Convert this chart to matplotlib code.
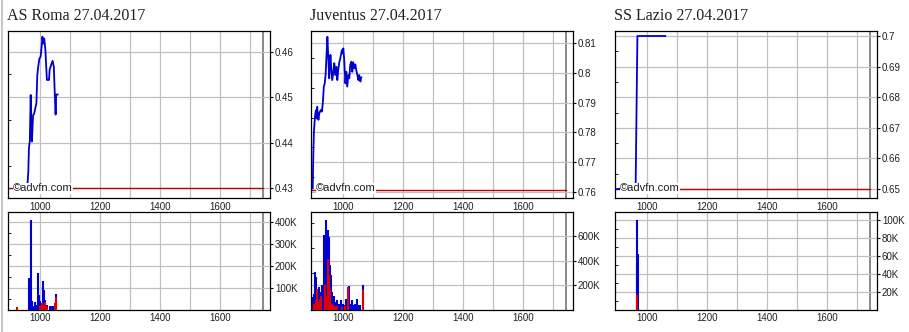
import numpy as np
import matplotlib.pyplot as plt
from matplotlib.lines import Line2D
from matplotlib.ticker import FixedLocator, FuncFormatter

# ---------------------------------------------------------------
# Chart data (time as HHMM, price in EUR, volume in shares)
# ---------------------------------------------------------------
titles = ['AS Roma 27.04.2017', 'Juventus 27.04.2017', 'SS Lazio 27.04.2017']
prev_close = [0.4300, 0.7607, 0.6500]

roma_t = [958, 961, 963, 966, 969, 971, 973, 977, 980, 983, 988, 991, 994, 998,
          1002, 1006, 1008, 1011, 1014, 1018, 1021, 1023, 1030, 1032, 1037,
          1042, 1046, 1049, 1052, 1054, 1059]
roma_p = [0.4307, 0.4336, 0.4388, 0.4403, 0.4505, 0.4417, 0.4403, 0.4461,
          0.4463, 0.4472, 0.4487, 0.4549, 0.4567, 0.4585, 0.4589, 0.4615,
          0.4633, 0.4618, 0.4629, 0.4604, 0.4563, 0.4538, 0.4538, 0.4560,
          0.4571, 0.4580, 0.4567, 0.4512, 0.4462, 0.4506, 0.4506]

juve_t = [899, 901, 903, 907, 910, 912, 914, 918, 921, 926, 930, 933, 936, 939,
          942, 945, 948, 952, 954, 958, 961, 964, 968, 971, 974, 978, 981, 984,
          988, 991, 996, 999, 1001, 1004, 1008, 1011, 1014, 1018, 1021, 1024,
          1028, 1031, 1034, 1038, 1041, 1044, 1048, 1051, 1054, 1058, 1061]
juve_p = [0.7611, 0.7724, 0.7802, 0.7858, 0.7875, 0.7847, 0.7886, 0.7842,
          0.7864, 0.7875, 0.7870, 0.7903, 0.7954, 0.7965, 0.7993, 0.8061,
          0.8122, 0.8027, 0.7982, 0.8061, 0.8016, 0.7976, 0.8004, 0.8033,
          0.7993, 0.8021, 0.7976, 0.8010, 0.8038, 0.8049, 0.8077, 0.8066,
          0.8083, 0.8044, 0.7965, 0.8004, 0.7954, 0.7993, 0.7982, 0.8027,
          0.8038, 0.8004, 0.8036, 0.8016, 0.8029, 0.8010, 0.7993, 0.7976,
          0.7993, 0.7971, 0.7985]

lazio_t = [897, 962, 968, 1061]
lazio_p = [0.6500, 0.6505, 0.7000, 0.7000]

roma_vt_buy = [964, 971, 974, 978, 983, 988, 994, 998, 1001, 1004, 1009, 1012,
               1016, 1019, 1022, 1033, 1037, 1040, 1044, 1048, 1053]
roma_v_buy = [145e3, 410e3, 39e3, 16e3, 36e3, 25e3, 168e3, 70e3, 39e3, 24e3,
              130e3, 92e3, 47e3, 24e3, 24e3, 16e3, 16e3, 16e3, 16e3, 16e3, 73e3]
roma_vt_sell = [922, 999, 1006, 1012, 1015, 1019, 1023, 1050, 1053]
roma_v_sell = [12e3, 20e3, 30e3, 25e3, 35e3, 20e3, 15e3, 30e3, 58e3]

juve_vt_buy = [901, 904, 908, 911, 914, 918, 921, 924, 928, 931, 934, 938, 941,
               944, 948, 951, 954, 958, 961, 964, 968, 971, 974, 978, 981, 984,
               988, 991, 994, 998, 1001, 1006, 1010, 1014, 1019, 1023, 1029,
               1034, 1040, 1046, 1051, 1057, 1066]
juve_v_buy = [105e3, 132e3, 308e3, 268e3, 160e3, 117e3, 187e3, 146e3, 117e3,
              200e3, 105e3, 605e3, 389e3, 727e3, 308e3, 646e3, 592e3, 362e3,
              281e3, 146e3, 92e3, 117e3, 65e3, 51e3, 78e3, 38e3, 51e3, 38e3,
              78e3, 38e3, 51e3, 38e3, 92e3, 38e3, 195e3, 51e3, 78e3, 38e3,
              51e3, 92e3, 38e3, 38e3, 200e3]
juve_vt_sell = [903, 909, 912, 918, 922, 926, 939, 942, 949, 952, 955, 958,
                962, 966, 972, 980, 995, 1005, 1018, 1065]
juve_v_sell = [51e3, 78e3, 173e3, 65e3, 92e3, 117e3, 200e3, 117e3, 416e3,
               281e3, 160e3, 92e3, 51e3, 38e3, 30e3, 30e3, 25e3, 30e3, 185e3,
               160e3]

lazio_vt_buy = [966, 968, 971]
lazio_v_buy = [50e3, 100e3, 62e3]
lazio_vt_sell = [967]
lazio_v_sell = [16.7e3]

price_ylims = [(0.42787, 0.46466), (0.75788, 0.81431), (0.6471, 0.7018)]
price_ticks = [[0.43, 0.44, 0.45, 0.46],
               [0.76, 0.77, 0.78, 0.79, 0.80, 0.81],
               [0.65, 0.66, 0.67, 0.68, 0.69, 0.70]]
vol_ylims = [(0, 448e3), (0, 795e3), (0, 109e3)]
vol_ticks = [[100e3, 200e3, 300e3, 400e3],
             [200e3, 400e3, 600e3],
             [20e3, 40e3, 60e3, 80e3, 100e3]]
x_grid = [1000, 1100, 1200, 1300, 1400, 1500, 1600, 1700]
x_labels = ['1000', '', '1200', '', '1400', '', '1600', '']
close_time = 1744

price_t = [roma_t, juve_t, lazio_t]
price_p = [roma_p, juve_p, lazio_p]
vol_tb = [roma_vt_buy, juve_vt_buy, lazio_vt_buy]
vol_b = [roma_v_buy, juve_v_buy, lazio_v_buy]
vol_ts = [roma_vt_sell, juve_vt_sell, lazio_vt_sell]
vol_s = [roma_v_sell, juve_v_sell, lazio_v_sell]

# ---------------------------------------------------------------
# Layout (pixels -> figure fractions)
# ---------------------------------------------------------------
W, H = 909, 332
fig = plt.figure(figsize=(W / 100, H / 100), dpi=100)
fig.patch.set_facecolor('white')
fig.add_artist(Line2D([1.5 / W, 1.5 / W], [0, 1], color='#c8c8c8', lw=1.5))

xlim = (893.3, 1766.7)
lefts = [8, 311, 615]
pw = 262
tick_col = '#202020'


def style(ax):
    ax.set_xlim(*xlim)
    ax.xaxis.set_major_locator(FixedLocator(x_grid))
    ax.set_xticklabels(x_labels)
    ax.grid(True, color='#c0c0c0', lw=0.9)
    ax.axvline(close_time, color='#6a6a6a', lw=1.1, zorder=1)
    ax.yaxis.tick_right()
    ax.tick_params(axis='y', which='major', length=2, direction='out', pad=1.5,
                   labelsize=7, labelcolor=tick_col)
    ax.tick_params(axis='y', which='minor', left=True, right=False, length=2,
                   direction='in')
    ax.tick_params(axis='x', length=0, labelsize=7, labelcolor=tick_col, pad=2.5)
    for s in ax.spines.values():
        s.set_color('black')
        s.set_linewidth(0.9)
    for lab in ax.get_xticklabels() + ax.get_yticklabels():
        lab.set_family('Liberation Sans')


for i in range(3):
    l = lefts[i] / W
    # price panel
    ax = fig.add_axes([l, (H - 198) / H, pw / W, 167.5 / H])
    lo, hi = price_ylims[i]
    ax.set_ylim(lo, hi)
    ax.axhline(prev_close[i], color='#c00000', lw=1.0, zorder=2,
               xmax=(close_time - xlim[0]) / (xlim[1] - xlim[0]))
    ax.plot(price_t[i], price_p[i], color='#0000d0', lw=1.3, zorder=3)
    ax.yaxis.set_major_locator(FixedLocator(price_ticks[i]))
    step = price_ticks[i][1] - price_ticks[i][0]
    ax.yaxis.set_minor_locator(FixedLocator(
        [v + step / 2 for v in [price_ticks[i][0] - step] + price_ticks[i]]))
    ax.yaxis.set_major_formatter(FuncFormatter(lambda v, p: f'{v:g}'))
    style(ax)
    ax.tick_params(axis='x', pad=3)
    ax.text(0.019, 0.058, '\u00a9advfn.com', transform=ax.transAxes,
            fontsize=8, family='Liberation Sans', color='#202020', va='center',
            zorder=5, bbox=dict(facecolor='white', edgecolor='none', pad=0.3))
    fig.text((lefts[i] - 1) / W, 1 - 20 / H, titles[i], fontsize=11.5,
             family='Liberation Serif', color='#202020', va='baseline')

    # volume panel
    av = fig.add_axes([l, 22 / H, pw / W, 98.3 / H])
    av.set_ylim(*vol_ylims[i])
    av.vlines(vol_tb[i], 0, vol_b[i], color='#0000d0', lw=1.5, zorder=3)
    av.vlines(vol_ts[i], 0, vol_s[i], color='#e00000', lw=1.5, zorder=4)
    av.yaxis.set_major_locator(FixedLocator(vol_ticks[i]))
    vstep = vol_ticks[i][1] - vol_ticks[i][0]
    av.yaxis.set_minor_locator(FixedLocator(
        [v - vstep / 2 for v in vol_ticks[i]] + [vol_ticks[i][-1] + vstep / 2]))
    av.yaxis.set_major_formatter(FuncFormatter(lambda v, p: f'{int(v / 1000)}K'))
    style(av)

fig.savefig('out.png', dpi=100)
